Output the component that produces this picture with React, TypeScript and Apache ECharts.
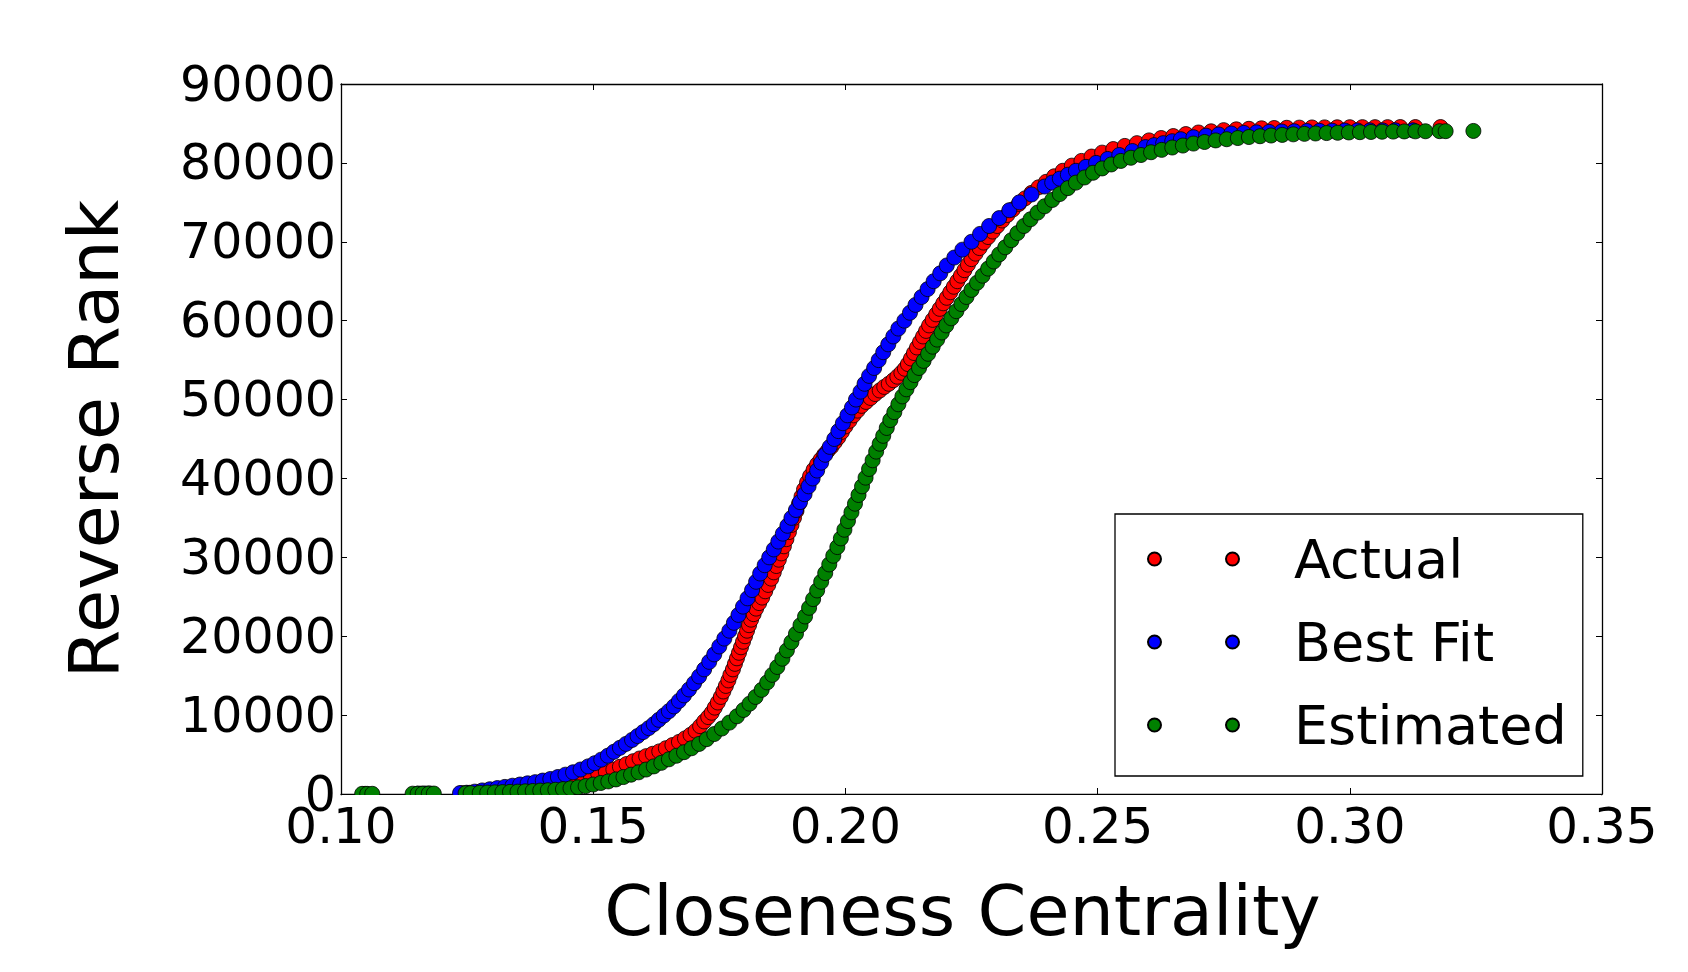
import React, { useEffect, useRef } from "react";
import * as echarts from "echarts";

// ---- data ----
const xTicks = [0.1, 0.15, 0.2, 0.25, 0.3, 0.35];
const yTicks = [0, 10000, 20000, 30000, 40000, 50000, 60000, 70000, 80000, 90000];
const seriesNames = ["Actual", "Best Fit", "Estimated"];

const actualCentrality = [
  0.1048, 0.1158, 0.117, 0.124, 0.1255,
  0.127, 0.1285, 0.13, 0.1315, 0.133, 0.1345, 0.136, 0.1375, 0.139, 0.1405, 0.142, 0.1435, 0.145, 0.1465, 0.148, 0.1495,
  0.151, 0.1525, 0.154, 0.1553, 0.1566, 0.1579, 0.1592, 0.1605, 0.1618, 0.1631, 0.1644, 0.1657, 0.167, 0.1682, 0.1693,
  0.1703, 0.1712, 0.172, 0.1728, 0.1735, 0.1741, 0.1747, 0.1753, 0.1758, 0.1763, 0.1768, 0.1772, 0.1777, 0.1781, 0.1785,
  0.1789, 0.1793, 0.1797, 0.1801, 0.1805, 0.1809, 0.1813, 0.1818, 0.1823, 0.1829, 0.1835, 0.1841, 0.1847, 0.1853, 0.1858,
  0.1863, 0.1868, 0.1873, 0.1878, 0.1883, 0.1888, 0.1893, 0.1898, 0.1903, 0.1908, 0.1913, 0.1918, 0.1924, 0.193, 0.1937,
  0.1944, 0.1951, 0.1958, 0.1965, 0.1972, 0.1979, 0.1986, 0.1993, 0.2, 0.2008, 0.2016, 0.2024, 0.2032, 0.2041, 0.205,
  0.2059, 0.2068, 0.2077, 0.2086, 0.2095, 0.2103, 0.2111, 0.2118, 0.2124, 0.213, 0.2136, 0.2142, 0.2148, 0.2154, 0.216,
  0.2166, 0.2173, 0.218, 0.2187, 0.2194, 0.2201, 0.2208, 0.2215, 0.2222, 0.2229, 0.2236, 0.2243, 0.225, 0.2258, 0.2266,
  0.2274, 0.2283, 0.2292, 0.2301, 0.2311, 0.2321, 0.2332, 0.2344, 0.2356, 0.2369, 0.2383, 0.2398, 0.2414, 0.2431, 0.2449,
  0.2468, 0.2488, 0.2509, 0.2531, 0.2554, 0.2578, 0.2602, 0.2626, 0.265, 0.2675, 0.27, 0.2725, 0.275, 0.2775, 0.28,
  0.2825, 0.285, 0.2875, 0.29, 0.2925, 0.295, 0.2975, 0.3, 0.3025, 0.305, 0.3075, 0.31, 0.313, 0.318,
];
const actualRank = [
  20, 40, 50, 100, 150,
  220, 300, 380, 460, 550, 650, 760, 880, 1000, 1130, 1280, 1450, 1650, 1900, 2150, 2380,
  2580, 2800, 3100, 3450, 3800, 4150, 4500, 4800, 5100, 5400, 5800, 6200, 6600, 7050, 7500,
  8000, 8600, 9200, 9750, 10300, 10950, 11600, 12300, 13000, 13700, 14400, 15100, 15800, 16500, 17200,
  17900, 18600, 19300, 20000, 20700, 21400, 22100, 22800, 23500, 24200, 24900, 25700, 26500, 27300, 28100,
  28900, 29700, 30500, 31400, 32300, 33200, 34100, 35000, 35900, 36800, 37700, 38600, 39500, 40300, 41100,
  41800, 42400, 43000, 43500, 44000, 44600, 45200, 45900, 46600, 47300, 48000, 48600, 49200, 49700, 50200,
  50700, 51150, 51600, 52000, 52450, 52900, 53400, 53900, 54500, 55200, 55900, 56600, 57300, 58000, 58700,
  59400, 60100, 60800, 61500, 62200, 62900, 63600, 64300, 65000, 65700, 66400, 67100, 67800, 68500, 69200,
  69900, 70600, 71300, 72000, 72700, 73400, 74100, 74800, 75500, 76200, 76900, 77600, 78300, 79000, 79650,
  80250, 80800, 81300, 81750, 82150, 82500, 82850, 83150, 83400, 83650, 83850, 84000, 84150, 84250, 84320,
  84380, 84420, 84450, 84470, 84490, 84500, 84510, 84520, 84530, 84530, 84530, 84540, 84540, 84540,
];

const bestFitCentrality = [
  0.1152, 0.1165, 0.1176, 0.1236, 0.1249,
  0.1265, 0.128, 0.1295, 0.131, 0.1325, 0.134, 0.1355, 0.137, 0.1385, 0.14, 0.1415, 0.143, 0.1445, 0.146, 0.1475,
  0.149, 0.1503, 0.1516, 0.1529, 0.1541, 0.1553, 0.1565, 0.1577, 0.1588, 0.1599, 0.161, 0.162, 0.163, 0.164, 0.165,
  0.166, 0.167, 0.168, 0.169, 0.17, 0.171, 0.172, 0.173, 0.174, 0.175, 0.176, 0.177, 0.1779, 0.1788, 0.1797,
  0.1806, 0.1815, 0.1823, 0.1831, 0.184, 0.1849, 0.1858, 0.1867, 0.1876, 0.1885, 0.1893, 0.1902, 0.191, 0.1919, 0.1927,
  0.1935, 0.1944, 0.1952, 0.196, 0.1969, 0.1978, 0.1986, 0.1995, 0.2004, 0.2013, 0.2021, 0.203, 0.2038, 0.2047, 0.2057,
  0.2066, 0.2075, 0.2085, 0.2095, 0.2105, 0.2117, 0.2128, 0.2139, 0.2151, 0.2163, 0.2175, 0.2188, 0.2201, 0.2216, 0.2232,
  0.225, 0.2267, 0.2285, 0.2305, 0.2325, 0.2345, 0.2369, 0.2395, 0.241, 0.2425, 0.2441, 0.2457, 0.2477, 0.2497, 0.252,
  0.2543, 0.2569, 0.2595, 0.2612, 0.263, 0.2648, 0.2665, 0.269, 0.2715, 0.274, 0.2765, 0.279, 0.2815, 0.284, 0.2865,
  0.289, 0.2915, 0.294, 0.2965, 0.299, 0.3015, 0.304, 0.3065, 0.309, 0.3125,
];
const bestFitRank = [
  40, 50, 60, 120, 160,
  300, 450, 600, 750, 900, 1050, 1200, 1350, 1500, 1700, 1900, 2150, 2450, 2750, 3100,
  3500, 3900, 4350, 4850, 5350, 5850, 6350, 6850, 7350, 7850, 8350, 8850, 9400, 9950, 10500,
  11100, 11800, 12500, 13250, 14050, 14900, 15800, 16750, 17700, 18700, 19700, 20700, 21700, 22700, 23750,
  24800, 25850, 26900, 27950, 29000, 30000, 31000, 32000, 33000, 34000, 35000, 36000, 37000, 38000, 39000,
  40000, 41000, 42000, 43000, 44000, 45000, 46000, 47000, 48000, 49000, 50000, 51000, 52000, 53000, 54000,
  55000, 56000, 57000, 58000, 59000, 60000, 61000, 62000, 63000, 64000, 65000, 66000, 67000, 68000, 69000,
  70000, 71000, 72000, 73000, 74000, 75000, 76000, 77000, 77500, 78000, 78500, 79000, 79500, 80000, 80500,
  81000, 81500, 82000, 82250, 82500, 82750, 83000, 83250, 83450, 83600, 83720, 83800, 83870, 83930, 83980,
  84010, 84040, 84060, 84080, 84100, 84110, 84120, 84120, 84130, 84130,
];

const estimatedCentrality = [
  0.1042, 0.1052, 0.1062, 0.1142, 0.1152, 0.1162, 0.1174, 0.1184, 0.1247, 0.1257,
  0.1275, 0.129, 0.1305, 0.132, 0.1335, 0.135, 0.1365, 0.138, 0.1395, 0.141, 0.1425, 0.144, 0.1455, 0.147, 0.1485,
  0.15, 0.1515, 0.153, 0.1545, 0.156, 0.1575, 0.159, 0.1605, 0.162, 0.1635, 0.165, 0.1665, 0.168, 0.1695, 0.171,
  0.1725, 0.174, 0.1755, 0.177, 0.1785, 0.1798, 0.181, 0.1822, 0.1834, 0.1845, 0.1855, 0.1865, 0.1875, 0.1884, 0.1893,
  0.1902, 0.1911, 0.192, 0.1928, 0.1936, 0.1944, 0.1952, 0.196, 0.1968, 0.1976, 0.1984, 0.1991, 0.1998, 0.2005, 0.2012,
  0.2019, 0.2026, 0.2033, 0.204, 0.2047, 0.2054, 0.2061, 0.2068, 0.2075, 0.2082, 0.2089, 0.2097, 0.2105, 0.2113, 0.2121,
  0.2129, 0.2137, 0.2146, 0.2155, 0.2164, 0.2173, 0.2182, 0.2191, 0.22, 0.221, 0.222, 0.223, 0.224, 0.225, 0.2261,
  0.2272, 0.2283, 0.2294, 0.2305, 0.2317, 0.2329, 0.2341, 0.2354, 0.2367, 0.2381, 0.2395, 0.241, 0.2425, 0.2441, 0.2457,
  0.2474, 0.2491, 0.2509, 0.2527, 0.2546, 0.2566, 0.2586, 0.2606, 0.2627, 0.2648, 0.2669, 0.269, 0.2712, 0.2734, 0.2756,
  0.2778, 0.28, 0.2822, 0.2844, 0.2866, 0.2888, 0.291, 0.2932, 0.2954, 0.2976, 0.2998, 0.302, 0.3042, 0.3064, 0.3086,
  0.3108, 0.313, 0.315, 0.3178, 0.319, 0.3245,
];
const estimatedRank = [
  20, 20, 25, 40, 40, 45, 50, 55, 100, 110,
  150, 180, 210, 240, 270, 300, 340, 380, 430, 480, 540, 620, 720, 850, 1000,
  1200, 1400, 1600, 1850, 2150, 2450, 2750, 3100, 3500, 3950, 4400, 4850, 5300, 5800, 6350,
  6950, 7600, 8300, 9050, 9850, 10650, 11450, 12300, 13200, 14150, 15100, 16100, 17150, 18200, 19250,
  20300, 21400, 22500, 23600, 24700, 25800, 26900, 28000, 29100, 30200, 31300, 32400, 33500, 34600, 35700,
  36800, 37900, 39000, 40100, 41200, 42300, 43400, 44400, 45400, 46400, 47400, 48400, 49400, 50400, 51300,
  52200, 53100, 54000, 54900, 55800, 56700, 57600, 58500, 59400, 60300, 61200, 62100, 63000, 63900, 64800,
  65700, 66600, 67500, 68400, 69300, 70200, 71100, 72000, 72850, 73700, 74500, 75300, 76050, 76800, 77500,
  78150, 78750, 79300, 79800, 80250, 80650, 81000, 81350, 81650, 81950, 82200, 82450, 82650, 82850, 83000,
  83150, 83280, 83380, 83470, 83550, 83620, 83680, 83730, 83780, 83820, 83860, 83890, 83920, 83950, 83970,
  83990, 84000, 84010, 84020, 84020, 84050,
];

const seriesColors = ["#ff0000", "#0000ff", "#008000"];

const FONT = "'DejaVu Sans', 'Liberation Sans', sans-serif";

const GRID_LEFT = 341;
const GRID_TOP = 84;
const GRID_W = 1261;
const GRID_H = 710;

const legendIcon =
  "path://M0,6.5A6.5,6.5,0,1,1,13,6.5A6.5,6.5,0,1,1,0,6.5Z M78,6.5A6.5,6.5,0,1,1,91,6.5A6.5,6.5,0,1,1,78,6.5Z";

function zip(xs: number[], ys: number[]) {
  return xs.map((x, i) => [x, ys[i]]);
}

export default function App() {
  const ref = useRef<HTMLDivElement>(null);

  useEffect(() => {
    if (!ref.current) return;
    const chart = echarts.init(ref.current, undefined, { renderer: "svg" });

    const axisLineStyle = { color: "#000", width: 1.3 };
    const tickStyle = { show: true, inside: true, length: 6, lineStyle: { color: "#000", width: 1 } };
    const xMin = xTicks[0];
    const xMax = xTicks[xTicks.length - 1];
    const xInterval = xTicks[1] - xTicks[0];
    const yMin = yTicks[0];
    const yMax = yTicks[yTicks.length - 1];
    const yInterval = yTicks[1] - yTicks[0];

    const dataSets = [
      zip(actualCentrality, actualRank),
      zip(bestFitCentrality, bestFitRank),
      zip(estimatedCentrality, estimatedRank),
    ];

    chart.setOption({
      animation: false,
      backgroundColor: "#fff",
      textStyle: { fontFamily: FONT },
      grid: { left: GRID_LEFT, top: GRID_TOP, width: GRID_W, height: GRID_H, show: false },
      xAxis: [
        {
          type: "value",
          min: xMin,
          max: xMax,
          interval: xInterval,
          name: "Closeness Centrality",
          nameLocation: "middle",
          nameGap: 82,
          nameTextStyle: { fontSize: 70, color: "#000", fontFamily: FONT, padding: [0, 18, 0, 0] },
          axisLine: { show: true, onZero: false, lineStyle: axisLineStyle },
          axisTick: tickStyle,
          axisLabel: {
            fontSize: 50,
            color: "#000",
            margin: 7,
            fontFamily: FONT,
            formatter: (v: number) => v.toFixed(2),
          },
          splitLine: { show: false },
        },
        {
          type: "value",
          position: "top",
          min: xMin,
          max: xMax,
          interval: xInterval,
          axisLine: { show: true, onZero: false, lineStyle: axisLineStyle },
          axisTick: tickStyle,
          axisLabel: { show: false },
          splitLine: { show: false },
        },
      ],
      yAxis: [
        {
          type: "value",
          min: yMin,
          max: yMax,
          interval: yInterval,
          name: "Reverse Rank",
          nameLocation: "middle",
          nameRotate: 90,
          nameGap: 212,
          nameTextStyle: { fontSize: 70, color: "#000", fontFamily: FONT },
          axisLine: { show: true, onZero: false, lineStyle: axisLineStyle },
          axisTick: tickStyle,
          axisLabel: {
            fontSize: 49,
            color: "#000",
            margin: 5,
            fontFamily: FONT,
            formatter: (v: number) => String(v),
          },
          splitLine: { show: false },
        },
        {
          type: "value",
          position: "right",
          min: yMin,
          max: yMax,
          interval: yInterval,
          axisLine: { show: true, onZero: false, lineStyle: axisLineStyle },
          axisTick: tickStyle,
          axisLabel: { show: false },
          splitLine: { show: false },
        },
      ],
      legend: {
        show: true,
        orient: "vertical",
        left: 1115,
        top: 514,
        data: seriesNames,
        icon: legendIcon,
        itemWidth: 91,
        itemHeight: 13,
        itemGap: 23,
        padding: [15, 16, 21, 32],
        borderColor: "#000",
        borderWidth: 1.3,
        borderRadius: 0,
        backgroundColor: "#fff",
        selectedMode: false,
        textStyle: {
          fontSize: 54,
          color: "#000",
          fontFamily: FONT,
          lineHeight: 60,
          padding: [0, 0, 0, 50],
        },
      },
      // markers are clipped at the lower frame edge, as in the reference
      graphic: [
        {
          type: "rect",
          left: GRID_LEFT + 1,
          top: GRID_TOP + GRID_H + 1,
          shape: { width: GRID_W - 2, height: 9 },
          style: { fill: "#fff" },
          z: 100,
          silent: true,
        },
      ],
      series: seriesNames.map((name, i) => ({
        type: "scatter",
        name,
        xAxisIndex: 0,
        yAxisIndex: 0,
        data: dataSets[i],
        symbol: "circle",
        symbolSize: 15,
        itemStyle: {
          color: seriesColors[i],
          borderColor: "#000",
          borderWidth: 0.8,
          opacity: 1,
        },
        emphasis: { disabled: true },
      })),
    });

    return () => chart.dispose();
  }, []);

  return (
    <div
      ref={ref}
      style={{ position: "fixed", left: 0, top: 0, width: 1688, height: 972 }}
    />
  );
}
